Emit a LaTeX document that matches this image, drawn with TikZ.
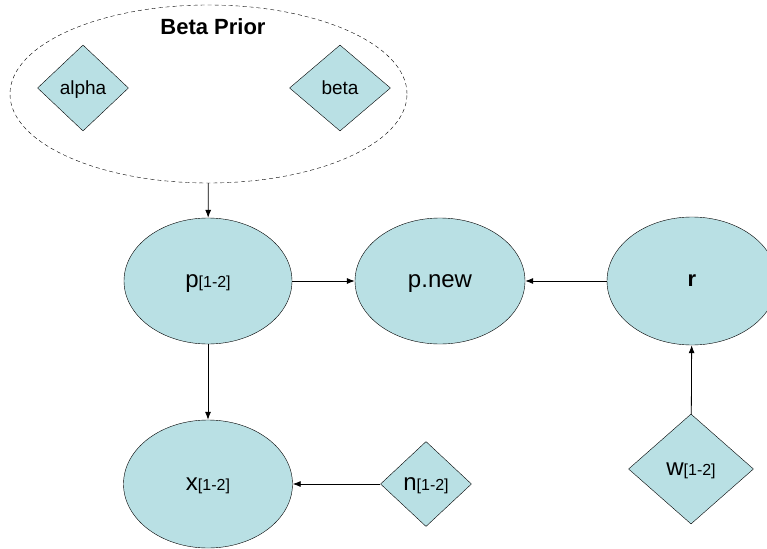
\documentclass[tikz,border=0pt]{standalone}
\usepackage{fontspec}
\setmainfont{Liberation Sans}
\usepackage{xcolor}
\usepackage{tikz}
\usetikzlibrary{shapes.geometric,arrows.meta}

\definecolor{nodefill}{RGB}{185,224,228}
\newcommand{\idx}[1]{{\fontsize{16}{18}\selectfont #1}}
\newcommand{\labelsize}{\fontsize{24}{28}\selectfont}

\begin{document}
\begin{tikzpicture}[x=1pt,y=-1pt,
    var/.style={ellipse,draw,fill=nodefill,inner sep=0pt,text depth=0pt,font=\labelsize},
    const/.style={diamond,draw,fill=nodefill,inner sep=0pt,text depth=0pt},
    edge/.style={-{Latex[length=8pt,width=6pt]},line width=0.8pt}]
  \useasboundingbox (0,0) rectangle (767,548);
  \clip (0,0) rectangle (767,548);
  % prior block
  \node[ellipse,draw,dashed,dash pattern=on 4pt off 3pt,minimum width=397,minimum height=178] (prior) at (208.5,94) {};
  \node[font=\bfseries\fontsize{22}{26}\selectfont] (title) at (213,27) {Beta Prior};
  \node[const,minimum width=91,minimum height=86,font=\fontsize{19}{22}\selectfont] (alpha) at (83,88) {alpha};
  \node[const,minimum width=101,minimum height=86,font=\fontsize{19}{22}\selectfont] (beta) at (340,88) {beta};
  % stochastic nodes
  \node[var,minimum width=168,minimum height=126] (p) at (208,281) {p\idx{[1-2]}};
  \node[var,minimum width=170,minimum height=126] (pnew) at (440,281) {p.new};
  \node[var,minimum width=170,minimum height=128] (r) at (692,281) {\bfseries\fontsize{22}{26}\selectfont r};
  \node[var,minimum width=169,minimum height=128] (x) at (208,484) {x\idx{[1-2]}};
  % data
  \node[const,minimum width=91,minimum height=85,font=\labelsize] (n) at (426,484) {n\idx{[1-2]}};
  \node[const,minimum width=125,minimum height=110,font=\labelsize] (w) at (691,469) {w\idx{[1-2]}};
  % edges
  \draw[edge] (prior) -- (p);
  \draw[edge] (p) -- (pnew);
  \draw[edge] (r) -- (pnew);
  \draw[edge] (p) -- (x);
  \draw[edge] (n) -- (x);
  \draw[edge] (w) -- (r);
\end{tikzpicture}
\end{document}
